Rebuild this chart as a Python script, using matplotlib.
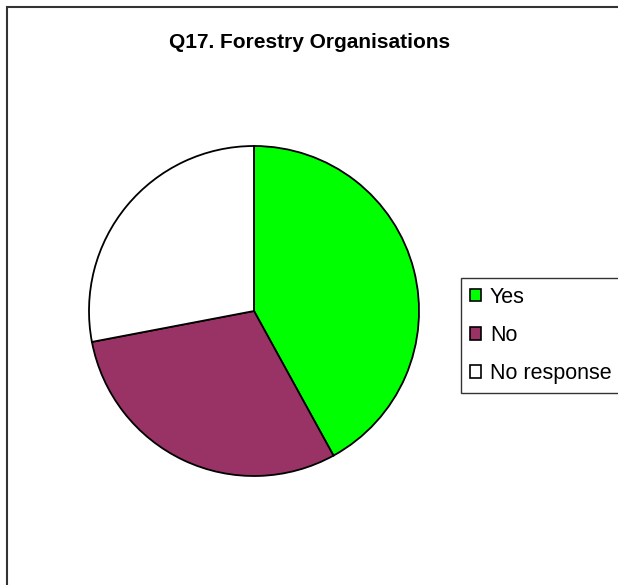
import matplotlib.pyplot as plt
from matplotlib.patches import Patch, Rectangle

plt.rcParams['font.family'] = ['Liberation Sans', 'DejaVu Sans']

# survey answers (percent)
labels = ['Yes', 'No', 'No response']
values = [42, 30, 28]
colors = ['#00FF00', '#993366', '#FFFFFF']

W, H = 618, 585
fig = plt.figure(figsize=(W / 100, H / 100), dpi=100)

# chart area border (open to the right and bottom)
fig.patches.append(Rectangle((6.5 / W, -0.1), 1.2, 1 - 7 / H + 0.1,
                             transform=fig.transFigure, fill=False,
                             edgecolor='#333333', linewidth=1.5))

fig.text(310 / W, 1 - 43 / H, 'Q17. Forestry Organisations',
         ha='center', va='center', fontsize=15, fontweight='bold')

# pie area in pixels: centre (254, 311), radius 165
cx, cy, r = 254, 311, 165
ax = fig.add_axes([(cx - r) / W, 1 - (cy + r) / H, 2 * r / W, 2 * r / H])
ax.pie(values, colors=colors, startangle=90, counterclock=False,
       wedgeprops=dict(edgecolor='black', linewidth=1.3))
ax.set_xlim(-1, 1)
ax.set_ylim(-1, 1)
ax.set_aspect('equal')
ax.axis('off')

handles = [Patch(facecolor=c, edgecolor='black', linewidth=1.2) for c in colors]
leg = fig.legend(handles, labels, loc='upper left',
                 bbox_to_anchor=(461 / W, 1 - 278 / H),
                 fontsize=15.5, frameon=True, fancybox=False,
                 edgecolor='black', handlelength=0.55, handleheight=0.55,
                 handletextpad=0.4, labelspacing=0.8, borderpad=0.4,
                 borderaxespad=0)
leg.get_frame().set_linewidth(1.0)

fig.savefig('out.png', dpi=100)
